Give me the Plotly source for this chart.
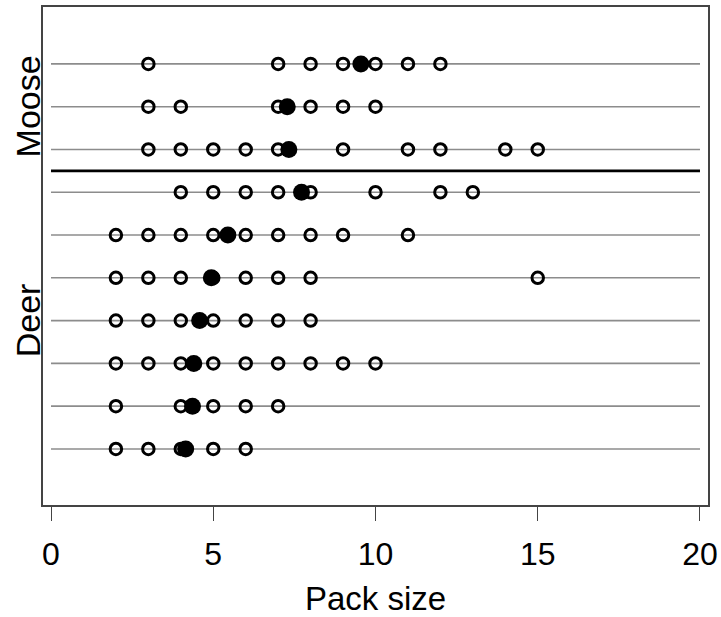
import plotly.graph_objects as go

# Rows listed from top to bottom
groups = ["Moose", "Moose", "Moose", "Deer", "Deer", "Deer", "Deer", "Deer", "Deer", "Deer"]
pack_sizes = [
    [3, 7, 8, 9, 10, 11, 12],
    [3, 4, 7, 8, 9, 10],
    [3, 4, 5, 6, 7, 9, 11, 12, 14, 15],
    [4, 5, 6, 7, 8, 10, 12, 13],
    [2, 3, 4, 5, 6, 7, 8, 9, 11],
    [2, 3, 4, 5, 6, 7, 8, 15],
    [2, 3, 4, 5, 6, 7, 8],
    [2, 3, 4, 5, 6, 7, 8, 9, 10],
    [2, 4, 5, 6, 7],
    [2, 3, 4, 5, 6],
]
mean_sizes = [9.55, 7.28, 7.33, 7.72, 5.45, 4.94, 4.58, 4.4, 4.36, 4.15]
x_ticks = [0, 5, 10, 15, 20]

n = len(pack_sizes)
row_y = [n - i for i in range(n)]  # top row at n, bottom row at 1

fig = go.Figure()

# guide lines for every row
for y in row_y:
    fig.add_trace(go.Scatter(x=[x_ticks[0], x_ticks[-1]], y=[y, y], mode="lines",
                             line=dict(color="#8c8c8c", width=1.6), hoverinfo="skip",
                             showlegend=False))

# separator between Moose and Deer
n_moose = groups.count("Moose")
sep_y = (row_y[n_moose - 1] + row_y[n_moose]) / 2
fig.add_trace(go.Scatter(x=[x_ticks[0], x_ticks[-1]], y=[sep_y, sep_y], mode="lines",
                         line=dict(color="black", width=2.6), hoverinfo="skip",
                         showlegend=False))

# open circles
for y, vals in zip(row_y, pack_sizes):
    fig.add_trace(go.Scatter(x=vals, y=[y] * len(vals), mode="markers",
                             marker=dict(symbol="circle-open", size=11.5, color="black",
                                         line=dict(width=3, color="black")),
                             showlegend=False))

# means (filled)
fig.add_trace(go.Scatter(x=mean_sizes, y=row_y, mode="markers",
                         marker=dict(symbol="circle", size=17, color="black"),
                         showlegend=False))

# group labels
moose_rows = [y for y, g in zip(row_y, groups) if g == "Moose"]
deer_rows = [y for y, g in zip(row_y, groups) if g == "Deer"]
for label, rows in [("Moose", moose_rows), ("Deer", deer_rows)]:
    fig.add_annotation(text=label, xref="paper", yref="y", x=-0.023, y=sum(rows) / len(rows),
                       textangle=-90, showarrow=False, xanchor="center", yanchor="middle",
                       font=dict(family="Liberation Sans, Arial", size=34, color="black"))

fig.update_layout(
    width=721, height=617,
    margin=dict(l=43, r=13, t=7, b=112),
    plot_bgcolor="white", paper_bgcolor="white",
    font=dict(family="Liberation Sans, Arial", color="black"),
)
fig.update_xaxes(range=[-0.247, 20.247], tickvals=x_ticks, ticks="outside", ticklen=14,
                 tickwidth=1.3, tickcolor="#444", showgrid=False, zeroline=False,
                 showline=True, linecolor="#444", linewidth=1.5, mirror=True,
                 automargin=False, ticklabelstandoff=6,
                 tickfont=dict(size=32), title=dict(text="Pack size", font=dict(size=33), standoff=33))
fig.update_yaxes(range=[-0.31, 11.33], showticklabels=False, ticks="", showgrid=False,
                 automargin=False,
                 zeroline=False, showline=True, linecolor="#444", linewidth=1.5, mirror=True)

# remove the default page margin so the 721x617 figure fills the window exactly
fig.write_html("out.html", config={"displayModeBar": False},
               post_script="document.body.style.margin='0';document.body.style.overflow='hidden';")
